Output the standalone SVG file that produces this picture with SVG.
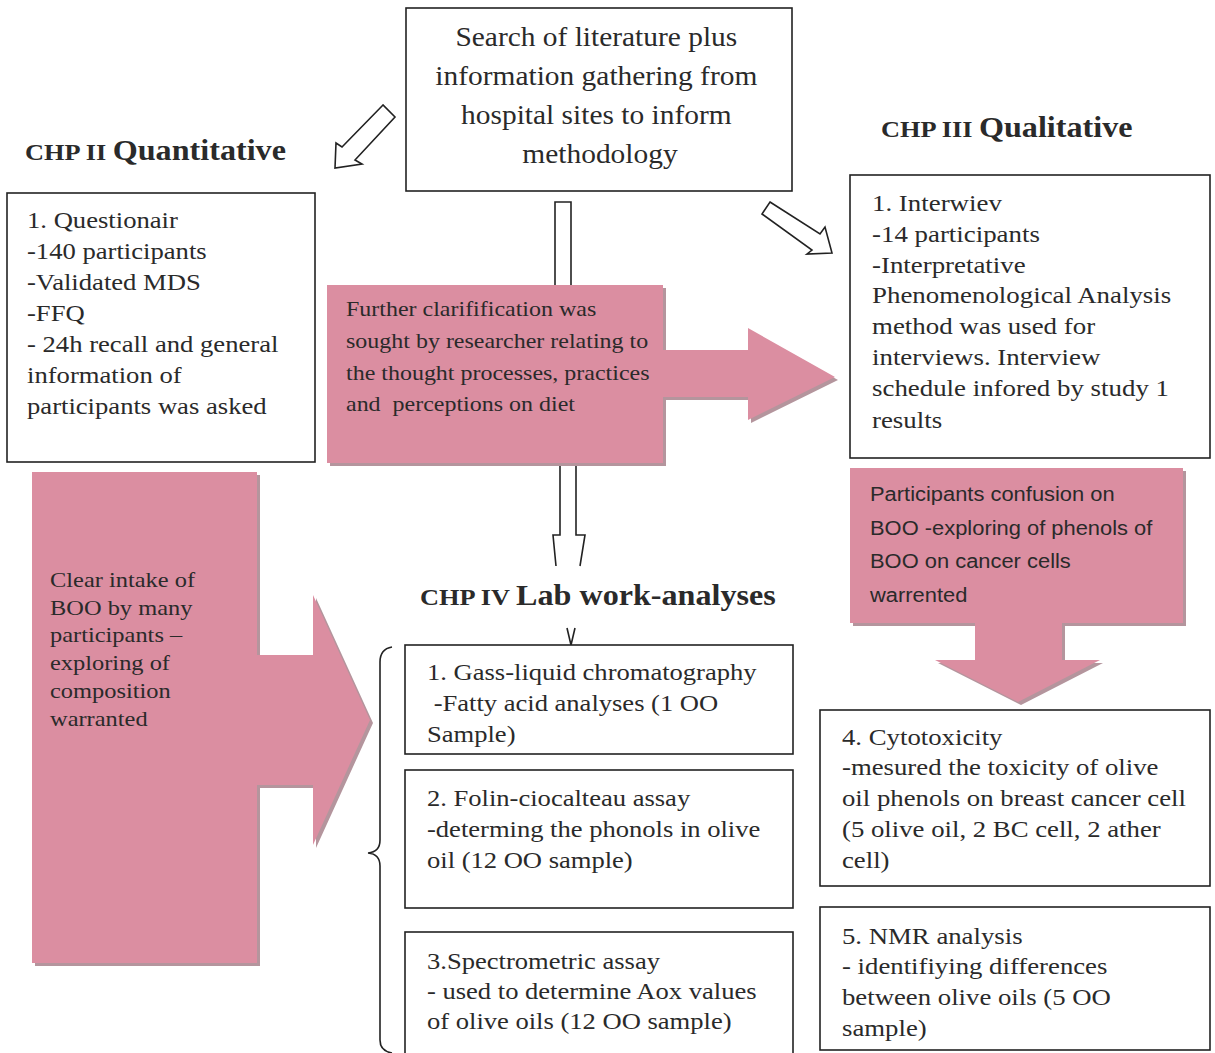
<svg xmlns="http://www.w3.org/2000/svg" width="1215" height="1053" viewBox="0 0 1215 1053">
<defs>
<style>
.box{fill:#fff;stroke:#222;stroke-width:1.6}
.ser{font-family:"Liberation Serif","Times New Roman",serif;fill:#2a2a2a}
.t24{font-size:24px}
.t27{font-size:27px}
.t22{font-size:22px}
.hd{font-family:"Liberation Serif","Times New Roman",serif;font-weight:bold;fill:#2a2a2a}
.hs{font-size:23.5px}
.hl{font-size:28.7px}
.pink{fill:#db8ea1}
.shadow{fill:#b4959d}
.sans{font-family:"Liberation Sans",Arial,sans-serif;font-size:20px;fill:#2a2a2a}
.ol{fill:#fff;stroke:#222;stroke-width:1.6;stroke-linejoin:miter}
.ln{fill:none;stroke:#222;stroke-width:1.6}
</style>
</defs>
<rect width="1215" height="1053" fill="#fff"/>

<g id="connectors">
  <polygon class="ol" points="383,105 342,147 336,143 335,168 362,164 355,160 395,117"/>
  <polygon class="ol" points="770,202 820,234 825,227 832,253 807,254 812,250 762,214"/>
  <polyline class="ln" points="555,285 555,202 571,202 571,285"/>
  <polyline class="ln" points="560,463 560,535 553,535 556,566"/>
  <polyline class="ln" points="576,463 576,535 585,535 580,566"/>
  <polyline class="ln" points="567,628 571,645 575,628"/>
  <path class="ln" d="M392,647 Q380,649 380,662 L380,840 Q380,852 368,853 Q380,854 380,866 L380,1040 Q380,1051 392,1053"/>
</g>

<g id="top">
  <rect class="box" x="406" y="8" width="386" height="183"/>
  <text class="ser t27" text-anchor="middle" transform="translate(600 0) scale(1.09 1)">
    <tspan x="0" y="46">Search of literature plus</tspan>
    <tspan x="0" y="85">information gathering from</tspan>
    <tspan x="0" y="124">hospital sites to inform</tspan>
    <tspan x="0" y="163">methodology</tspan>
  </text>
</g>

<g id="chp2-title">
  <text class="hd" transform="translate(25 0) scale(1.12 1)" x="0" y="160"><tspan class="hs">CHP II </tspan><tspan class="hl">Quantitative</tspan></text>
</g>

<g id="chp3-title">
  <text class="hd" transform="translate(881 0) scale(1.12 1)" x="0" y="137"><tspan class="hs">CHP III </tspan><tspan class="hl">Qualitative</tspan></text>
</g>

<g id="chp4-title">
  <text class="hd" transform="translate(420 0) scale(1.12 1)" x="0" y="605"><tspan class="hs">CHP IV </tspan><tspan class="hl">Lab work-analyses</tspan></text>
</g>

<g id="quant">
  <rect class="box" x="7" y="193" width="308" height="269"/>
  <text class="ser t24" transform="translate(27 0) scale(1.11 1)">
    <tspan x="0" y="228">1. Questionair</tspan>
    <tspan x="0" y="259">-140 participants</tspan>
    <tspan x="0" y="290">-Validated MDS</tspan>
    <tspan x="0" y="321">-FFQ</tspan>
    <tspan x="0" y="352">- 24h recall and general</tspan>
    <tspan x="0" y="383">information of</tspan>
    <tspan x="0" y="414">participants was asked</tspan>
  </text>
</g>

<g id="qual">
  <rect class="box" x="850" y="175" width="360" height="283"/>
  <text class="ser t24" transform="translate(872 0) scale(1.12 1)">
    <tspan x="0" y="211">1. Interwiev</tspan>
    <tspan x="0" y="242">-14 participants</tspan>
    <tspan x="0" y="273">-Interpretative</tspan>
    <tspan x="0" y="303">Phenomenological Analysis</tspan>
    <tspan x="0" y="334">method was used for</tspan>
    <tspan x="0" y="365">interviews. Interview</tspan>
    <tspan x="0" y="396">schedule infored by study 1</tspan>
    <tspan x="0" y="428">results</tspan>
  </text>
</g>

<g id="clarification">
  <polygon class="shadow" transform="translate(3,3)" points="327,285 663,285 663,350 748,350 748,328 835,377 748,420 748,397 663,397 663,463 327,463"/>
  <polygon class="pink" points="327,285 663,285 663,350 748,350 748,328 835,377 748,420 748,397 663,397 663,463 327,463"/>
  <text class="ser t22" transform="translate(346 0) scale(1.09 1)">
    <tspan x="0" y="316">Further clarifification was</tspan>
    <tspan x="0" y="348">sought by researcher relating to</tspan>
    <tspan x="0" y="380">the thought processes, practices</tspan>
    <tspan x="0" y="411">and &#160;perceptions on diet</tspan>
  </text>
</g>

<g id="confusion">
  <polygon class="shadow" transform="translate(3,3)" points="850,468 1183,468 1183,623 1062,623 1062,660 1100,660 1018,702 935,660 975,660 975,623 850,623"/>
  <polygon class="pink" points="850,468 1183,468 1183,623 1062,623 1062,660 1100,660 1018,702 935,660 975,660 975,623 850,623"/>
  <text class="sans" transform="translate(870 0) scale(1.095 1)">
    <tspan x="0" y="501">Participants confusion on</tspan>
    <tspan x="0" y="535">BOO -exploring of phenols of</tspan>
    <tspan x="0" y="568">BOO on cancer cells</tspan>
    <tspan x="0" y="602">warrented</tspan>
  </text>
</g>

<g id="intake">
  <polygon class="shadow" transform="translate(3,3)" points="32,472 257,472 257,655 313,655 313,595 370,720 313,845 313,785 257,785 257,963 32,963"/>
  <polygon class="pink" points="32,472 257,472 257,655 313,655 313,595 370,720 313,845 313,785 257,785 257,963 32,963"/>
  <text class="ser t22" transform="translate(50 0) scale(1.11 1)">
    <tspan x="0" y="587">Clear intake of</tspan>
    <tspan x="0" y="615">BOO by many</tspan>
    <tspan x="0" y="642">participants –</tspan>
    <tspan x="0" y="670">exploring of</tspan>
    <tspan x="0" y="698">composition</tspan>
    <tspan x="0" y="726">warranted</tspan>
  </text>
</g>

<g id="lab1">
  <rect class="box" x="405" y="645" width="388" height="109"/>
  <text class="ser t24" transform="translate(427 0) scale(1.107 1)">
    <tspan x="0" y="680">1. Gass-liquid chromatography</tspan>
    <tspan x="0" y="711">&#160;-Fatty acid analyses (1 OO</tspan>
    <tspan x="0" y="742">Sample)</tspan>
  </text>
</g>

<g id="lab2">
  <rect class="box" x="405" y="770" width="388" height="138"/>
  <text class="ser t24" transform="translate(427 0) scale(1.107 1)">
    <tspan x="0" y="806">2. Folin-ciocalteau assay</tspan>
    <tspan x="0" y="837">-determing the phonols in olive</tspan>
    <tspan x="0" y="868">oil (12 OO sample)</tspan>
  </text>
</g>

<g id="lab3">
  <rect class="box" x="405" y="932" width="388" height="125"/>
  <text class="ser t24" transform="translate(427 0) scale(1.107 1)">
    <tspan x="0" y="969">3.Spectrometric assay</tspan>
    <tspan x="0" y="999">- used to determine Aox values</tspan>
    <tspan x="0" y="1029">of olive oils (12 OO sample)</tspan>
  </text>
</g>

<g id="lab4">
  <rect class="box" x="820" y="710" width="390" height="176"/>
  <text class="ser t24" transform="translate(842 0) scale(1.115 1)">
    <tspan x="0" y="745">4. Cytotoxicity</tspan>
    <tspan x="0" y="775">-mesured the toxicity of olive</tspan>
    <tspan x="0" y="806">oil phenols on breast cancer cell</tspan>
    <tspan x="0" y="837">(5 olive oil, 2 BC cell, 2 ather</tspan>
    <tspan x="0" y="868">cell)</tspan>
  </text>
</g>

<g id="lab5">
  <rect class="box" x="820" y="907" width="390" height="143"/>
  <text class="ser t24" transform="translate(842 0) scale(1.115 1)">
    <tspan x="0" y="944">5. NMR analysis</tspan>
    <tspan x="0" y="974">- identifiying differences</tspan>
    <tspan x="0" y="1005">between olive oils (5 OO</tspan>
    <tspan x="0" y="1036">sample)</tspan>
  </text>
</g>
</svg>
